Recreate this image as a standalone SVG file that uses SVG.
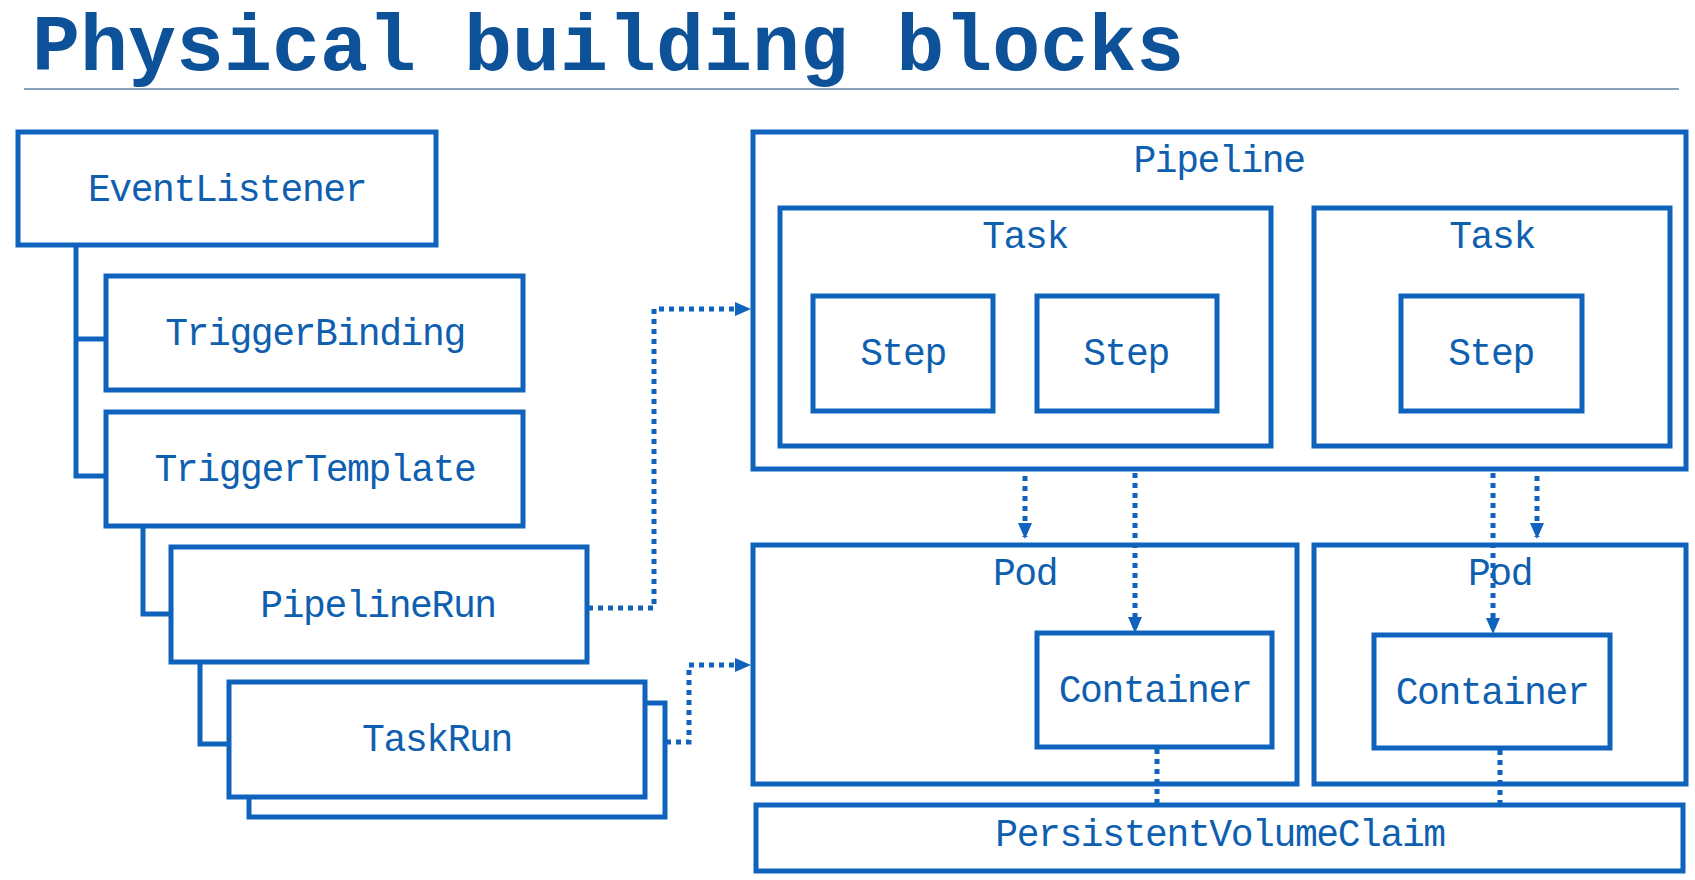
<svg xmlns="http://www.w3.org/2000/svg" width="1695" height="880" viewBox="0 0 1695 880">
<style>
.box{fill:#fff;stroke:#0f63bd;stroke-width:5}
.lbl{font-family:"Liberation Mono","DejaVu Sans Mono",monospace;font-size:38px;letter-spacing:-1.4px;fill:#0f5fb0;text-anchor:middle}
.tree{fill:none;stroke:#0f63bd;stroke-width:5}
.dot{fill:none;stroke:#0f63bd;stroke-width:5;stroke-dasharray:5 5}
.title{font-family:"Liberation Mono","DejaVu Sans Mono",monospace;font-size:80px;font-weight:bold;fill:#0d5199}
</style>
<defs>
<marker id="ah" markerWidth="16" markerHeight="16" refX="14" refY="8" orient="auto" markerUnits="userSpaceOnUse">
<path d="M0,1 L16,8 L0,15 Z" fill="#0f63bd"/>
</marker>
</defs>
<rect width="1695" height="880" fill="#fff"/>
<text class="title" x="32" y="70">Physical building blocks</text>
<line x1="24" y1="89" x2="1679" y2="89" stroke="#8aa3bd" stroke-width="2"/>

<g id="tree-lines">
<path class="tree" d="M76,245 V476 H106 M76,339 H106"/>
<path class="tree" d="M143,526 V614 H171"/>
<path class="tree" d="M200,662 V744 H229"/>
</g>

<g id="connectors">
<path class="dot" d="M588,608 H654 V309 H749" marker-end="url(#ah)"/>
<path class="dot" d="M666,742 H689 V665 H749" marker-end="url(#ah)"/>
<path class="dot" d="M1025,456 V537" marker-end="url(#ah)"/>
<path class="dot" d="M1135,413 V631" marker-end="url(#ah)"/>
<path class="dot" d="M1493,413 V632" marker-end="url(#ah)"/>
<path class="dot" d="M1537,456 V537" marker-end="url(#ah)"/>
<path class="dot" d="M1157,749 V805"/>
<path class="dot" d="M1500,750 V805"/>
</g>

<g id="EventListener"><rect class="box" x="18" y="132" width="418" height="113"/><text class="lbl" x="227" y="201">EventListener</text></g>
<g id="TriggerBinding"><rect class="box" x="106" y="276" width="417" height="114"/><text class="lbl" x="315" y="345">TriggerBinding</text></g>
<g id="TriggerTemplate"><rect class="box" x="106" y="412" width="417" height="114"/><text class="lbl" x="315" y="481">TriggerTemplate</text></g>
<g id="PipelineRun"><rect class="box" x="171" y="547" width="416" height="115"/><text class="lbl" x="378" y="617">PipelineRun</text></g>
<g id="TaskRun"><rect class="box" x="249" y="703" width="416" height="114"/><rect class="box" x="229" y="682" width="416" height="115"/><text class="lbl" x="437" y="751">TaskRun</text></g>

<g id="Pipeline"><rect class="box" x="753" y="132" width="933" height="337"/><text class="lbl" x="1219" y="172">Pipeline</text></g>
<g id="Task1"><rect class="box" x="780" y="208" width="491" height="238"/><text class="lbl" x="1025" y="248">Task</text></g>
<g id="Task2"><rect class="box" x="1314" y="208" width="356" height="238"/><text class="lbl" x="1492" y="248">Task</text></g>
<g id="Step1"><rect class="box" x="813" y="296" width="180" height="115"/><text class="lbl" x="903" y="365">Step</text></g>
<g id="Step2"><rect class="box" x="1037" y="296" width="180" height="115"/><text class="lbl" x="1126" y="365">Step</text></g>
<g id="Step3"><rect class="box" x="1401" y="296" width="181" height="115"/><text class="lbl" x="1491" y="365">Step</text></g>

<g id="Pod1"><rect class="box" x="753" y="545" width="544" height="239" style="fill:none"/><text class="lbl" x="1025" y="585">Pod</text></g>
<g id="Pod2"><rect class="box" x="1314" y="545" width="372" height="239" style="fill:none"/><text class="lbl" x="1500" y="585">Pod</text></g>
<g id="Container1"><rect class="box" x="1037" y="633" width="235" height="114"/><text class="lbl" x="1155" y="702">Container</text></g>
<g id="Container2"><rect class="box" x="1374" y="635" width="236" height="113"/><text class="lbl" x="1492" y="704">Container</text></g>
<g id="PersistentVolumeClaim"><rect class="box" x="756" y="805" width="927" height="66"/><text class="lbl" x="1220" y="846">PersistentVolumeClaim</text></g>
</svg>
